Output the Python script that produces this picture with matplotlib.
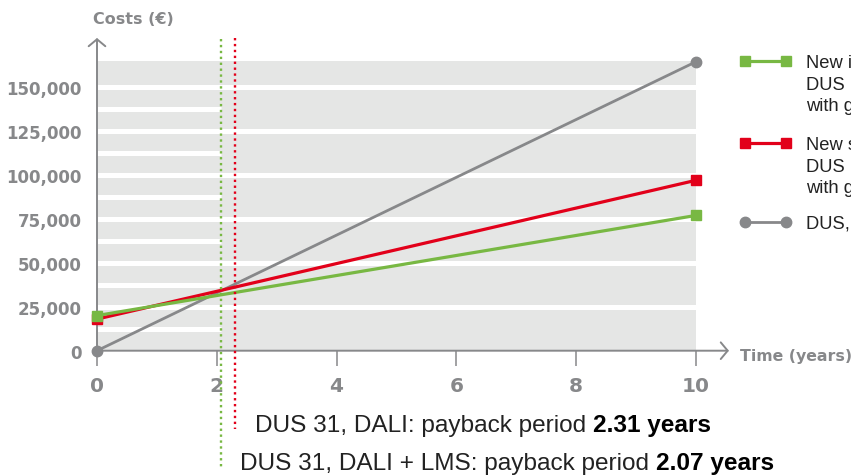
import matplotlib.pyplot as plt
from matplotlib.lines import Line2D
from matplotlib.patches import Rectangle
from matplotlib.transforms import blended_transform_factory

# data
years = [0, 10]
cost_lms = [20000, 77000]        # new installation DUS 31, DALI + LMS
cost_dali = [18000, 97000]       # new installation DUS 31, DALI
cost_existing = [0, 164500]      # DUS, existing
payback_lms = 2.07
payback_dali = 2.31
x_ticks = [0, 2, 4, 6, 8, 10]
y_ticks = [0, 25000, 50000, 75000, 100000, 125000, 150000]
y_labels = ['0', '25,000', '50,000', '75,000', '100,000', '125,000', '150,000']

legend_labels = [
    'New installation\nDUS  31, DALI + LMS\nwith gateway',
    'New system\nDUS  31, DALI\nwith gateway',
    'DUS, existing installation',
]
note_dali = ('DUS 31, DALI: payback period ', '2.31 years')
note_lms = ('DUS 31, DALI + LMS: payback period ', '2.07 years')

GREEN = '#78b843'
RED = '#e2001a'
GREY = '#87888a'
BG = '#e5e6e5'
TEXT = '#222222'
BOLD_FONT = 'DejaVu Sans'
TEXT_FONT = 'Liberation Sans'

W, H = 851, 477
fig = plt.figure(figsize=(W / 100, H / 100), dpi=100)
x0_px, y0_px, unit_px = 97, 351.7, 59.9
top_px = 39.0
ax = fig.add_axes([x0_px / W, 1 - y0_px / H, 10.55 * unit_px / W, (y0_px - top_px) / H])
ax.set_xlim(0, 10.55)
ax.set_ylim(0, 178000)
for s in ax.spines.values():
    s.set_visible(False)

# grey panel with white stripes
ax.add_patch(Rectangle((0, 0), 10, 165000, facecolor=BG, lw=0, zorder=0))
ax.hlines(y_ticks[1:], 0, 10, color='white', lw=3.6, zorder=1)
ax.hlines([t + 12500 for t in y_ticks[:-1]], 0, payback_lms, color='white', lw=3.6, zorder=1)

# axes with arrow heads
arrow = dict(arrowstyle='->,head_length=0.5,head_width=0.6', color=GREY, lw=1.4,
             shrinkA=0, shrinkB=0)
ax.annotate('', xy=(0, 1), xytext=(0, 0), xycoords='axes fraction',
            arrowprops=arrow, annotation_clip=False)
ax.annotate('', xy=(1, 0), xytext=(0, 0), xycoords='axes fraction',
            arrowprops=arrow, annotation_clip=False)

# series
line_existing, = ax.plot(years, cost_existing, color=GREY, lw=2.0, marker='o', ms=7.5,
                         zorder=3, clip_on=False)
line_dali, = ax.plot(years, cost_dali, color=RED, lw=2.3, marker='s', ms=7.5,
                     zorder=4, clip_on=False)
line_lms, = ax.plot(years, cost_lms, color=GREEN, lw=2.3, marker='s', ms=7.5,
                    zorder=5, clip_on=False)

# payback markers
trans = blended_transform_factory(ax.transData, ax.transAxes)
ax.plot([payback_lms, payback_lms], [0.997, -0.372], transform=trans, color=GREEN,
        lw=1.7, ls=(0, (1, 1.5)), clip_on=False, zorder=6)
ax.plot([payback_dali, payback_dali], [1.0, -0.25], transform=trans, color=RED,
        lw=1.7, ls=(0, (1, 1.5)), clip_on=False, zorder=6)

# ticks
ax.set_xticks(x_ticks)
ax.set_xticklabels([str(x) for x in x_ticks], fontfamily=BOLD_FONT, fontweight='bold')
ax.set_yticks(y_ticks)
ax.set_yticklabels(y_labels, fontfamily=BOLD_FONT, fontweight='bold')
ax.tick_params(axis='x', length=11, width=1.1, color=GREY, pad=7, labelsize=14.5,
               labelcolor=GREY)
ax.tick_params(axis='y', length=0, pad=11, labelsize=12.0, labelcolor=GREY)

fig.text(93 / W, 1 - 20 / H, 'Costs (€)', ha='left', va='center', fontsize=11.5,
         fontfamily=BOLD_FONT, fontweight='bold', color=GREY)
fig.text(740 / W, 1 - 356 / H, 'Time (years)', ha='left', va='center', fontsize=11.3,
         fontfamily=BOLD_FONT, fontweight='bold', color=GREY)

# legend drawn by hand so the sample lines up with the first text line
for line, label, ypx in zip([line_lms, line_dali, line_existing], legend_labels, [62, 144, 223]):
    yf = 1 - ypx / H
    fig.add_artist(Line2D([745 / W, 786 / W], [yf, yf], transform=fig.transFigure,
                          color=line.get_color(), lw=line.get_linewidth(),
                          marker=line.get_marker(), ms=line.get_markersize()))
    fig.text(806 / W, 1 - (ypx - 7) / H, label, ha='left', va='top', fontsize=13.2,
             fontfamily=TEXT_FONT, color=TEXT, linespacing=1.36)

# payback notes
for (plain, bold), xpx, ypx in [(note_dali, 255, 432), (note_lms, 240, 470)]:
    t = fig.text(xpx / W, 1 - ypx / H, plain, ha='left', va='baseline', fontsize=17.6,
                 fontfamily=TEXT_FONT, color=TEXT)
    ax.annotate(bold, xy=(1, 0), xycoords=t, ha='left', va='bottom', fontsize=17.6,
                fontfamily=TEXT_FONT, fontweight='bold', color='black',
                annotation_clip=False)

fig.savefig('out.png', dpi=100)
